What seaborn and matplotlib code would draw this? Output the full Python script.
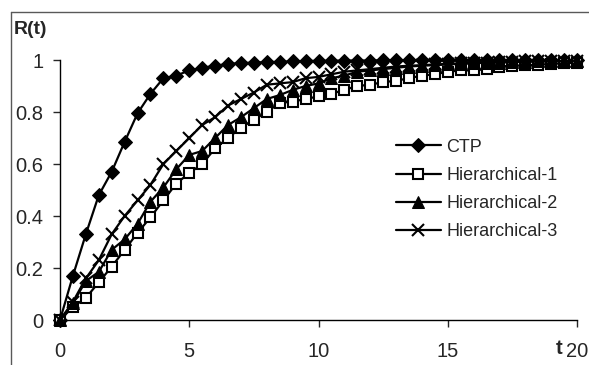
import numpy as np
import pandas as pd
import matplotlib
matplotlib.use("Agg")
import matplotlib.pyplot as plt
from matplotlib.lines import Line2D
import seaborn as sns

# ---- data ----
t = [0, 0.5, 1, 1.5, 2, 2.5, 3, 3.5, 4, 4.5, 5, 5.5, 6, 6.5, 7, 7.5, 8, 8.5, 9, 9.5,
     10, 10.5, 11, 11.5, 12, 12.5, 13, 13.5, 14, 14.5, 15, 15.5, 16, 16.5, 17, 17.5,
     18, 18.5, 19, 19.5, 20]

ctp = [0, 0.17, 0.33, 0.48, 0.57, 0.685, 0.795, 0.87, 0.93, 0.94, 0.96, 0.97, 0.978,
       0.985, 0.988, 0.99, 0.992, 0.993, 0.995, 0.996, 0.997, 0.997, 0.998, 0.998,
       0.998, 0.999, 0.999, 0.999, 0.999, 1.0, 1.0, 1.0, 1.0, 1.0, 1.0, 1.0, 1.0,
       1.0, 1.0, 1.0, 1.0]

hier1 = [0, 0.05, 0.085, 0.145, 0.205, 0.27, 0.335, 0.395, 0.46, 0.525, 0.565, 0.60,
         0.66, 0.70, 0.74, 0.77, 0.80, 0.835, 0.84, 0.85, 0.86, 0.87, 0.885, 0.90,
         0.905, 0.915, 0.92, 0.93, 0.94, 0.945, 0.955, 0.96, 0.96, 0.965, 0.975,
         0.978, 0.98, 0.982, 0.985, 0.987, 0.99]

hier2 = [0, 0.065, 0.15, 0.185, 0.27, 0.31, 0.37, 0.455, 0.51, 0.58, 0.635, 0.65,
         0.70, 0.75, 0.78, 0.815, 0.85, 0.865, 0.885, 0.90, 0.91, 0.93, 0.94, 0.955,
         0.96, 0.965, 0.97, 0.975, 0.978, 0.98, 0.983, 0.985, 0.987, 0.99, 0.99,
         0.992, 0.993, 0.995, 0.995, 0.996, 0.997]

hier3 = [0, 0.07, 0.16, 0.23, 0.33, 0.40, 0.46, 0.52, 0.60, 0.65, 0.70, 0.75, 0.78,
         0.825, 0.85, 0.875, 0.905, 0.91, 0.915, 0.93, 0.935, 0.945, 0.955, 0.96,
         0.965, 0.97, 0.975, 0.978, 0.98, 0.983, 0.985, 0.987, 0.99, 0.99, 0.992,
         0.993, 0.995, 0.995, 0.996, 0.997, 0.998]

series_names = ["CTP", "Hierarchical-1", "Hierarchical-2", "Hierarchical-3"]
series_vals = [ctp, hier1, hier2, hier3]

# marker style per series
styles = {
    "CTP":            dict(marker="D", markersize=7, markerfacecolor="black"),
    "Hierarchical-1": dict(marker="s", markersize=7, markerfacecolor="white",
                           markeredgewidth=1.5),
    "Hierarchical-2": dict(marker="^", markersize=8, markerfacecolor="black"),
    "Hierarchical-3": dict(marker="x", markersize=8.5, markeredgewidth=1.5),
}

# ---- plot ----
sns.set_style("ticks")
plt.rcParams["font.family"] = ["Liberation Sans", "DejaVu Sans"]

fig = plt.figure(figsize=(5.89, 3.65), dpi=100)
ax = fig.add_axes([60 / 589, 1 - 320 / 365, 517 / 589, 260 / 365])

for name, vals in zip(series_names, series_vals):
    df = pd.DataFrame({"t": t, "R": vals})
    sns.lineplot(data=df, x="t", y="R", ax=ax, color="black", linewidth=1.6,
                 markeredgecolor="black", label=name, clip_on=False,
                 **styles[name])

ax.set_xlim(0, 20)
ax.set_ylim(0, 1)
ax.set_xticks([0, 5, 10, 15, 20])
ax.set_yticks([0, 0.2, 0.4, 0.6, 0.8, 1.0])
ax.set_yticklabels(["0", "0.2", "0.4", "0.6", "0.8", "1"])
ax.set_xlabel("")
ax.set_ylabel("")
sns.despine(ax=ax)
for s in ["left", "bottom"]:
    ax.spines[s].set_color("black")
    ax.spines[s].set_linewidth(1.0)
ax.tick_params(axis="x", length=5, width=1, pad=11, labelsize=14.5)
ax.tick_params(axis="y", length=5, width=1, pad=7, labelsize=14.5)

leg = ax.legend(loc="upper left", bbox_to_anchor=(0.635, 0.725), frameon=False,
                fontsize=13, handlelength=2.5, handletextpad=0.3,
                labelspacing=0.62, borderaxespad=0, numpoints=1)

# axis titles as in the original
fig.text(14 / 589, 1 - 30 / 365, "R(t)", fontsize=14, fontweight="bold",
         ha="left", va="center")
fig.text(559 / 589, 1 - 348 / 365, "t", fontsize=14.5, fontweight="bold",
         ha="center", va="center")

# scanned frame (top and left edges)
fig.add_artist(Line2D([11 / 589, 11 / 589], [0, 1 - 12 / 365],
                      transform=fig.transFigure, color="0.35", lw=1))
fig.add_artist(Line2D([11 / 589, 1], [1 - 12 / 365, 1 - 12 / 365],
                      transform=fig.transFigure, color="0.35", lw=1))

fig.savefig("out.png", dpi=100)
